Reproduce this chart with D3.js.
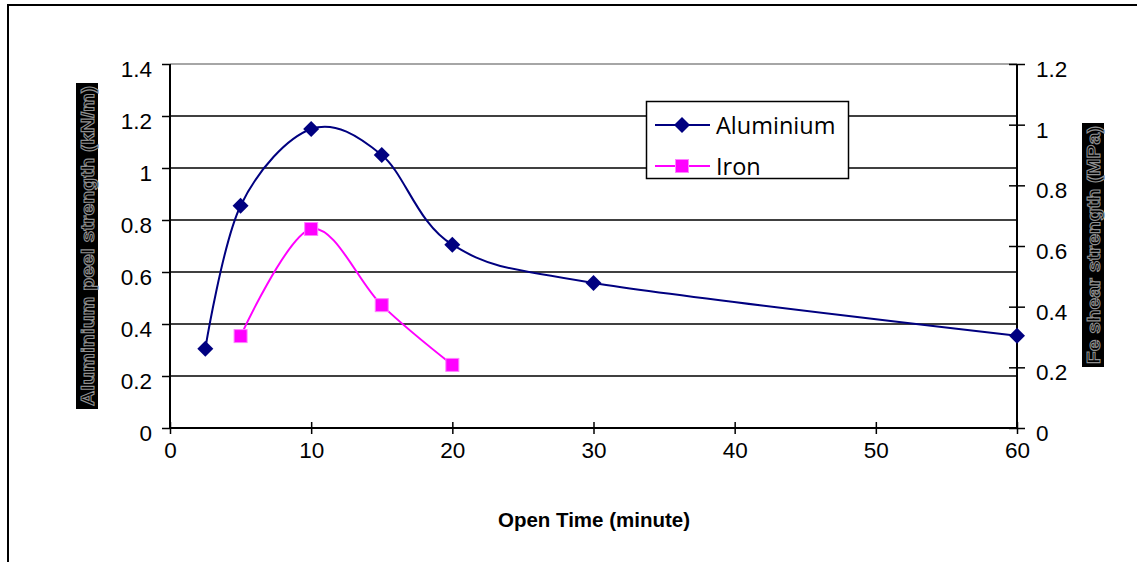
<!DOCTYPE html>
<html>
<head>
<meta charset="utf-8">
<script src="https://cdn.jsdelivr.net/npm/d3@7"></script>
<style>
  html, body { margin: 0; padding: 0; background: #fff; }
  svg { display: block; }
</style>
</head>
<body>
<svg id="chart" width="1137" height="562"></svg>
<script>
// Open time (minutes) and measured strengths
const alTimes = [2.5, 5, 10, 15, 20, 30, 60];
const alPeel = [0.305, 0.855, 1.15, 1.05, 0.705, 0.558, 0.355];  // kN/m, left axis
const feTimes = [5, 10, 15, 20];
const feShear = [0.303, 0.656, 0.405, 0.208];                    // MPa, right axis

const xTicks = [0, 10, 20, 30, 40, 50, 60];
const leftTicks = [0, 0.2, 0.4, 0.6, 0.8, 1, 1.2, 1.4];
const rightTicks = [0, 0.2, 0.4, 0.6, 0.8, 1, 1.2];
const seriesNames = ["Aluminium", "Iron"];

const svg = d3.select("#chart");
const plot = { left: 170, right: 1017, top: 64, bottom: 428 };

const x = d3.scaleLinear().domain([0, 60]).range([plot.left, plot.right]);
const yL = d3.scaleLinear().domain([0, 1.4]).range([plot.bottom, plot.top]);
const yR = d3.scaleLinear().domain([0, 1.2]).range([plot.bottom, plot.top]);

const tickFont = "'Liberation Sans', Arial, sans-serif";
const tickSize = 22.5;

// outer frame
svg.append("rect")
  .attr("x", 8).attr("y", 5).attr("width", 1140).attr("height", 570)
  .attr("fill", "none").attr("stroke", "#000").attr("stroke-width", 2);

// horizontal gridlines on the left scale
svg.append("g").selectAll("line")
  .data(leftTicks.filter(d => d > 0))
  .join("line")
  .attr("x1", plot.left).attr("x2", plot.right)
  .attr("y1", d => yL(d)).attr("y2", d => yL(d))
  .attr("stroke", d => d === 1.4 ? "#888" : "#000")
  .attr("stroke-width", 1.5);

// left axis
const gL = svg.append("g")
  .attr("transform", `translate(${plot.left},0)`)
  .call(d3.axisLeft(yL).tickValues(leftTicks).tickFormat(d3.format("")).tickSize(8).tickPadding(10));
gL.selectAll(".tick line").attr("stroke-width", 1.5);

// right axis (ticks cross the line)
const gR = svg.append("g")
  .attr("transform", `translate(${plot.right},0)`)
  .call(d3.axisRight(yR).tickValues(rightTicks).tickFormat(d3.format("")).tickSize(8).tickPadding(11));
gR.selectAll(".tick line").attr("x1", -8).attr("x2", 8).attr("stroke-width", 1.5);

// bottom axis (ticks cross the line)
const gX = svg.append("g")
  .attr("transform", `translate(0,${plot.bottom})`)
  .call(d3.axisBottom(x).tickValues(xTicks).tickFormat(d3.format("")).tickSize(6).tickPadding(8));
gX.selectAll(".tick line").attr("y1", -6).attr("y2", 6).attr("stroke-width", 1.5);

[gL, gR, gX].forEach(g => {
  g.select(".domain").remove();
  g.selectAll("text").attr("font-family", tickFont).attr("font-size", tickSize).attr("fill", "#000");
});
gL.selectAll("text").attr("dy", "0.55em");
gR.selectAll("text").attr("dy", "0.55em");

// axis lines
[[plot.left, plot.top, plot.left, plot.bottom],
 [plot.right, plot.top, plot.right, plot.bottom],
 [plot.left, plot.bottom, plot.right, plot.bottom]].forEach(([x1, y1, x2, y2]) => {
  svg.append("line").attr("x1", x1).attr("y1", y1).attr("x2", x2).attr("y2", y2)
    .attr("stroke", "#000").attr("stroke-width", 2);
});

// x axis title
svg.append("text")
  .attr("x", 594).attr("y", 527)
  .attr("text-anchor", "middle")
  .attr("font-family", tickFont).attr("font-weight", "bold").attr("font-size", 20.5)
  .text("Open Time (minute)");

// rotated y axis titles on dark boxes
function sideTitle(cx, cy, len, label) {
  const g = svg.append("g").attr("transform", `translate(${cx},${cy}) rotate(-90)`);
  g.append("rect").attr("x", -len / 2 - 3).attr("y", -11).attr("width", len + 6).attr("height", 22).attr("fill", "#000");
  g.append("text")
    .attr("x", 0).attr("y", 6.5)
    .attr("text-anchor", "middle")
    .attr("font-family", tickFont).attr("font-weight", "bold").attr("font-size", 18)
    .attr("textLength", len).attr("lengthAdjust", "spacingAndGlyphs")
    .attr("fill", "#000").attr("stroke", "#909090").attr("stroke-width", 1)
    .text(label);
}
sideTitle(87, 246, 320, "Aluminium peel strength (kN/m)");
sideTitle(1093, 245, 238, "Fe shear strength (MPa)");

// series lines (smoothed)
const alData = alTimes.map((t, i) => [t, alPeel[i]]);
const feData = feTimes.map((t, i) => [t, feShear[i]]);

svg.append("path")
  .datum(alData)
  .attr("fill", "none").attr("stroke", "#000080").attr("stroke-width", 2)
  .attr("d", d3.line().x(d => x(d[0])).y(d => yL(d[1])).curve(d3.curveCardinal));

svg.append("path")
  .datum(feData)
  .attr("fill", "none").attr("stroke", "#ff00ff").attr("stroke-width", 2)
  .attr("d", d3.line().x(d => x(d[0])).y(d => yR(d[1])).curve(d3.curveCardinal));

// markers
const diamond = s => `M0,${-s}L${s},0L0,${s}L${-s},0Z`;
svg.append("g").selectAll("path")
  .data(alData).join("path")
  .attr("transform", d => `translate(${x(d[0])},${yL(d[1])})`)
  .attr("d", diamond(8))
  .attr("fill", "#000080");

svg.append("g").selectAll("rect")
  .data(feData).join("rect")
  .attr("x", d => x(d[0]) - 6.5).attr("y", d => yR(d[1]) - 6.5)
  .attr("width", 13).attr("height", 13)
  .attr("fill", "#ff00ff").attr("stroke", "#ff80ff").attr("stroke-width", 1);

// legend
const lg = svg.append("g");
lg.append("rect").attr("x", 646.5).attr("y", 101.5).attr("width", 202).attr("height", 77)
  .attr("fill", "#fff").attr("stroke", "#000").attr("stroke-width", 1.5);
const legendRows = [
  { name: seriesNames[0], color: "#000080", y: 125, marker: "diamond" },
  { name: seriesNames[1], color: "#ff00ff", y: 166, marker: "square" }
];
legendRows.forEach(r => {
  lg.append("line").attr("x1", 655).attr("x2", 710).attr("y1", r.y).attr("y2", r.y)
    .attr("stroke", r.color).attr("stroke-width", 2);
  if (r.marker === "diamond") {
    lg.append("path").attr("transform", `translate(682,${r.y})`).attr("d", diamond(8)).attr("fill", r.color);
  } else {
    lg.append("rect").attr("x", 675.5).attr("y", r.y - 6.5).attr("width", 13).attr("height", 13)
      .attr("fill", r.color).attr("stroke", "#ff80ff").attr("stroke-width", 1);
  }
  lg.append("text").attr("x", 716).attr("y", r.y + 8.5)
    .attr("font-family", "'Open Sans', sans-serif").attr("font-size", 23.5).attr("fill", "#000")
    .text(r.name);
});
</script>
</body>
</html>
